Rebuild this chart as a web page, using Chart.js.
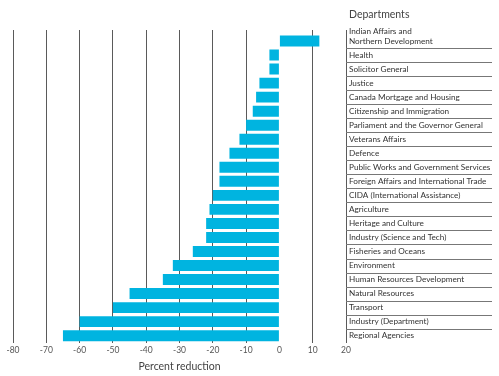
<!DOCTYPE html>
<html>
<head>
<meta charset="utf-8">
<script src="https://cdn.jsdelivr.net/npm/chart.js@4"></script>
<style>
  html, body { margin: 0; padding: 0; background: #fff; }
  #wrap { width: 499px; height: 376px; }
</style>
</head>
<body>
<div id="wrap"><canvas id="myChart"></canvas></div>
<script>
// first label gets an empty third line so its two text lines sit above the separator
const departments = [
  ['Indian Affairs and', 'Northern Development', ''],
  'Health',
  'Solicitor General',
  'Justice',
  'Canada Mortgage and Housing',
  'Citizenship and Immigration',
  'Parliament and the Governor General',
  'Veterans Affairs',
  'Defence',
  'Public Works and Government Services',
  'Foreign Affairs and International Trade',
  'CIDA (International Assistance)',
  'Agriculture',
  'Heritage and Culture',
  'Industry (Science and Tech)',
  'Fisheries and Oceans',
  'Environment',
  'Human Resources Development',
  'Natural Resources',
  'Transport',
  'Industry (Department)',
  'Regional Agencies'
];
const reductions = [12, -3, -3, -6, -7, -8, -10, -12, -15, -18, -18, -20, -21, -22, -22, -26, -32, -35, -45, -50, -60, -65];
const xTicks = [-80, -70, -60, -50, -40, -30, -20, -10, 0, 10, 20];

const fontFamily = "Lato, 'Open Sans', sans-serif";
const gridColor = ctx => (ctx.tick && ctx.tick.value === 0) ? 'rgba(0,0,0,0)' : '#5a5a5a';

// separators and heading for the label column on the right
const labelPanel = {
  id: 'labelPanel',
  afterDraw(chart) {
    const c = chart.ctx;
    const y = chart.scales.y;
    const area = chart.chartArea;
    const step = y.getPixelForValue(1) - y.getPixelForValue(0);
    c.save();
    c.strokeStyle = '#777';
    c.lineWidth = 1;
    for (let i = 0; i < departments.length - 1; i++) {
      const py = Math.round(y.getPixelForValue(i) + step / 2) + 0.5;
      c.beginPath();
      c.moveTo(area.right, py);
      c.lineTo(y.right, py);
      c.stroke();
    }
    c.fillStyle = '#444';
    c.font = "10.5px " + fontFamily;
    c.textBaseline = 'middle';
    c.fillText('Departments', area.right + 3, 15);
    c.restore();
  }
};

const ctx = document.getElementById('myChart');

new Chart(ctx, {
  type: 'bar',
  data: {
    labels: departments,
    datasets: [{
      data: reductions,
      backgroundColor: '#00b4e0',
      categoryPercentage: 1,
      barPercentage: 0.78
    }]
  },
  options: {
    indexAxis: 'y',
    responsive: true,
    maintainAspectRatio: false,
    animation: false,
    layout: { padding: { left: 13, right: 7, top: 30, bottom: 3 } },
    plugins: {
      legend: { display: false },
      tooltip: { enabled: false }
    },
    scales: {
      x: {
        type: 'linear',
        min: -80,
        max: 20,
        afterBuildTicks: s => { s.ticks = xTicks.map(v => ({ value: v })); },
        border: { display: false },
        grid: { color: gridColor, drawTicks: false, lineWidth: 1 },
        ticks: { color: '#555', font: { family: fontFamily, size: 8.5 }, padding: 2 },
        title: {
          display: true,
          text: 'Percent reduction',
          color: '#444',
          font: { family: fontFamily, size: 10.5 },
          padding: { top: 3.5, bottom: 0 }
        }
      },
      xTop: {
        type: 'linear',
        position: 'top',
        min: -80,
        max: 20,
        afterBuildTicks: s => { s.ticks = xTicks.map(v => ({ value: v })); },
        border: { display: false },
        grid: { color: gridColor, drawOnChartArea: false, drawTicks: true, tickLength: 4 },
        ticks: { display: false }
      },
      y: {
        position: 'right',
        afterFit: s => { s.width = 146; },
        border: { display: false },
        grid: { display: false, drawTicks: false },
        ticks: {
          color: '#333',
          crossAlign: 'near',
          padding: 3,
          autoSkip: false,
          font: { family: fontFamily, size: 8.2, lineHeight: 1.15 }
        }
      }
    }
  },
  plugins: [labelPanel]
});
</script>
</body>
</html>
